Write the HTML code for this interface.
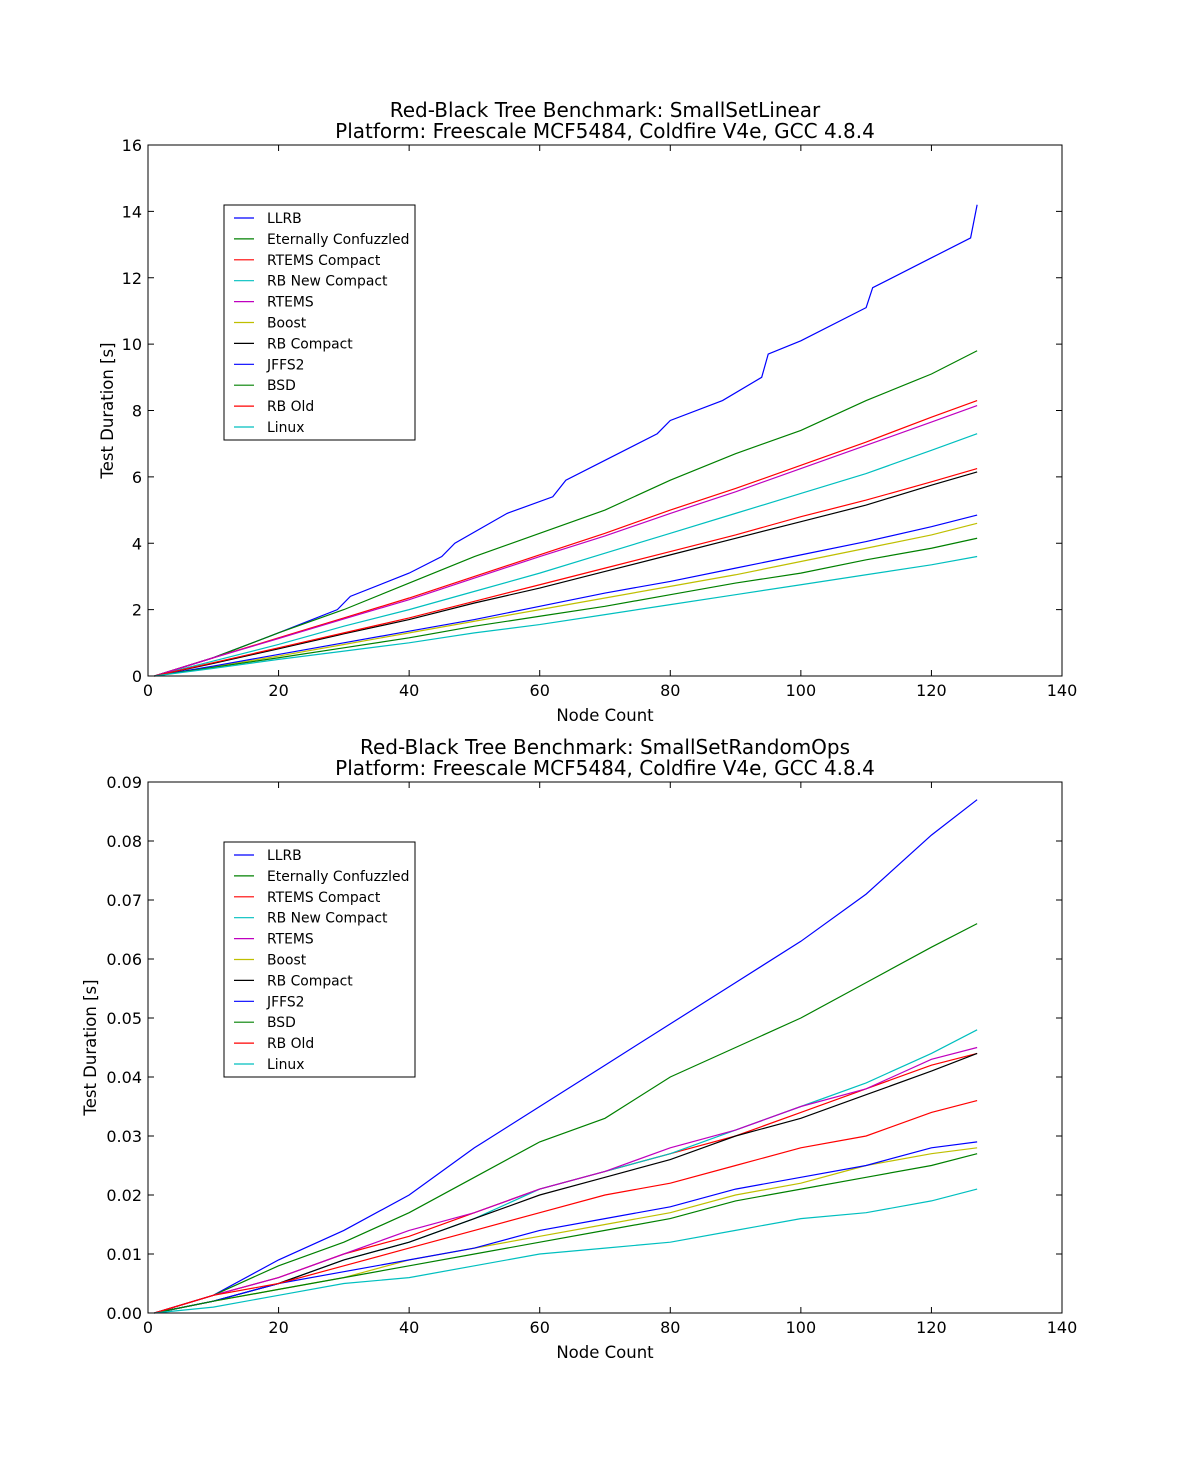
<!DOCTYPE html>
<html><head><meta charset="utf-8"><style>
body{margin:0;background:#fff;}
svg{display:block;font-family:"DejaVu Sans","Liberation Sans",sans-serif;}
</style></head><body>
<svg id="svg" width="1181" height="1459" xmlns="http://www.w3.org/2000/svg"></svg>
<script>
const names=["LLRB","Eternally Confuzzled","RTEMS Compact","RB New Compact","RTEMS","Boost","RB Compact","JFFS2","BSD","RB Old","Linux"];
const colors=["#0000ff","#008000","#ff0000","#00bfbf","#bf00bf","#bfbf00","#000000","#0000ff","#008000","#ff0000","#00bfbf"];
const xs=[1,10,20,30,40,50,60,70,80,90,100,110,120,127];
const llrbXs=[1,10,20,29,31,40,45,47,55,62,64,70,78,80,88,94,95,100,110,111,120,126,127];
const topLlrb=[0,0.55,1.3,2.0,2.4,3.1,3.6,4.0,4.9,5.4,5.9,6.5,7.3,7.7,8.3,9.0,9.7,10.1,11.1,11.7,12.6,13.2,14.2];
const topVals=[
 null,
 [0,0.55,1.3,2.0,2.8,3.6,4.3,5.0,5.9,6.7,7.4,8.3,9.1,9.8],
 [0,0.55,1.15,1.75,2.35,3.0,3.65,4.3,5.0,5.65,6.35,7.05,7.8,8.3],
 [0,0.45,0.95,1.5,2.0,2.55,3.1,3.7,4.3,4.9,5.5,6.1,6.8,7.3],
 [0,0.55,1.13,1.72,2.3,2.95,3.6,4.22,4.9,5.55,6.25,6.95,7.65,8.15],
 [0,0.28,0.6,0.95,1.3,1.65,2.0,2.35,2.7,3.05,3.45,3.85,4.25,4.6],
 [0,0.38,0.82,1.27,1.7,2.2,2.65,3.15,3.65,4.15,4.65,5.15,5.75,6.15],
 [0,0.3,0.65,1.0,1.35,1.7,2.1,2.5,2.85,3.25,3.65,4.05,4.5,4.85],
 [0,0.26,0.55,0.85,1.15,1.5,1.8,2.1,2.45,2.8,3.1,3.5,3.85,4.15],
 [0,0.4,0.85,1.3,1.75,2.25,2.75,3.25,3.75,4.25,4.8,5.3,5.85,6.25],
 [0,0.23,0.5,0.75,1.0,1.3,1.55,1.85,2.15,2.45,2.75,3.05,3.35,3.6]];
const botVals=[
 [0,0.003,0.009,0.014,0.02,0.028,0.035,0.042,0.049,0.056,0.063,0.071,0.081,0.087],
 [0,0.003,0.008,0.012,0.017,0.023,0.029,0.033,0.04,0.045,0.05,0.056,0.062,0.066],
 [0,0.003,0.006,0.01,0.013,0.017,0.021,0.024,0.027,0.03,0.034,0.038,0.042,0.044],
 [0,0.002,0.005,0.009,0.012,0.016,0.021,0.024,0.027,0.031,0.035,0.039,0.044,0.048],
 [0,0.003,0.006,0.01,0.014,0.017,0.021,0.024,0.028,0.031,0.035,0.038,0.043,0.045],
 [0,0.002,0.004,0.006,0.009,0.011,0.013,0.015,0.017,0.02,0.022,0.025,0.027,0.028],
 [0,0.002,0.005,0.009,0.012,0.016,0.02,0.023,0.026,0.03,0.033,0.037,0.041,0.044],
 [0,0.002,0.005,0.007,0.009,0.011,0.014,0.016,0.018,0.021,0.023,0.025,0.028,0.029],
 [0,0.002,0.004,0.006,0.008,0.01,0.012,0.014,0.016,0.019,0.021,0.023,0.025,0.027],
 [0,0.003,0.005,0.008,0.011,0.014,0.017,0.02,0.022,0.025,0.028,0.03,0.034,0.036],
 [0,0.001,0.003,0.005,0.006,0.008,0.01,0.011,0.012,0.014,0.016,0.017,0.019,0.021]];
const xTicks=[0,20,40,60,80,100,120,140];
const topYTicks=[0,2,4,6,8,10,12,14,16];
const botYTicks=[0,0.01,0.02,0.03,0.04,0.05,0.06,0.07,0.08,0.09];
const svg=document.getElementById('svg');
const NS="http://www.w3.org/2000/svg";
function mk(tag,attrs,parent){const e=document.createElementNS(NS,tag);for(const k in attrs)e.setAttribute(k,attrs[k]);(parent||svg).appendChild(e);return e;}
function plot(id,top,bottom,ymax,yTicks,yFmt,titles,series){
 const L=148,R=1062;
 const g=mk('g',{});
 
 
 const sx=v=>L+(R-L)*v/140, sy=v=>bottom-(bottom-top)*v/ymax;
 titles.forEach((t,i)=>{const e=mk('text',{x:605,y:top-28+i*21,'text-anchor':'middle','font-size':20},g);e.textContent=t;
  });
 series.forEach(s=>{const p=mk('polyline',{points:s.xs.map((x,i)=>sx(x)+','+sy(s.ys[i])).join(' '),fill:'none',stroke:s.color,'stroke-width':1.2},g);
  });
 const fr=mk('rect',{x:L,y:top,width:R-L,height:bottom-top,fill:'none',stroke:'#000','stroke-width':1},g);
 
 xTicks.forEach(t=>{const x=sx(t);mk('line',{x1:x,x2:x,y1:bottom,y2:bottom-6,stroke:'#000'},g);mk('line',{x1:x,x2:x,y1:top,y2:top+6,stroke:'#000'},g);
  const e=mk('text',{x:x,y:bottom+20,'text-anchor':'middle','font-size':16},g);e.textContent=t;
  });
 yTicks.forEach(t=>{const y=sy(t);mk('line',{x1:L,x2:L+6,y1:y,y2:y,stroke:'#000'},g);mk('line',{x1:R,x2:R-6,y1:y,y2:y,stroke:'#000'},g);
  const e=mk('text',{x:L-6,y:y+6,'text-anchor':'end','font-size':16},g);e.textContent=yFmt(t);
  });
 const xl=mk('text',{x:605,y:bottom+45,'text-anchor':'middle','font-size':16.5},g);xl.textContent='Node Count';
 
 const ylx=id==='top'?113:96;
 const yl=mk('text',{x:ylx,y:(top+bottom)/2,'text-anchor':'middle','font-size':16.5,transform:'rotate(-90 '+ylx+' '+(top+bottom)/2+')'},g);yl.textContent='Test Duration [s]';
 
 const ly=top+60;
 const lg=mk('g',{},g);
 
 mk('rect',{x:224,y:ly,width:191,height:235,fill:'#fff',stroke:'#000'},lg);
 series.forEach((s,i)=>{const y=ly+13+i*20.9;mk('line',{x1:234,x2:254,y1:y,y2:y,stroke:s.color,'stroke-width':1.2},lg);
  const e=mk('text',{x:267,y:y+5,'font-size':13.9},lg);e.textContent=s.name;
  });
}
const topSeries=names.map((n,i)=>({name:n,color:colors[i],xs:i===0?llrbXs:xs,ys:i===0?topLlrb:topVals[i]}));
const botSeries=names.map((n,i)=>({name:n,color:colors[i],xs:xs,ys:botVals[i]}));
plot('top',145,676,16,topYTicks,t=>String(t),["Red-Black Tree Benchmark: SmallSetLinear","Platform: Freescale MCF5484, Coldfire V4e, GCC 4.8.4"],topSeries);
plot('bottom',782,1313,0.09,botYTicks,t=>t.toFixed(2),["Red-Black Tree Benchmark: SmallSetRandomOps","Platform: Freescale MCF5484, Coldfire V4e, GCC 4.8.4"],botSeries);
</script>
</body></html>
